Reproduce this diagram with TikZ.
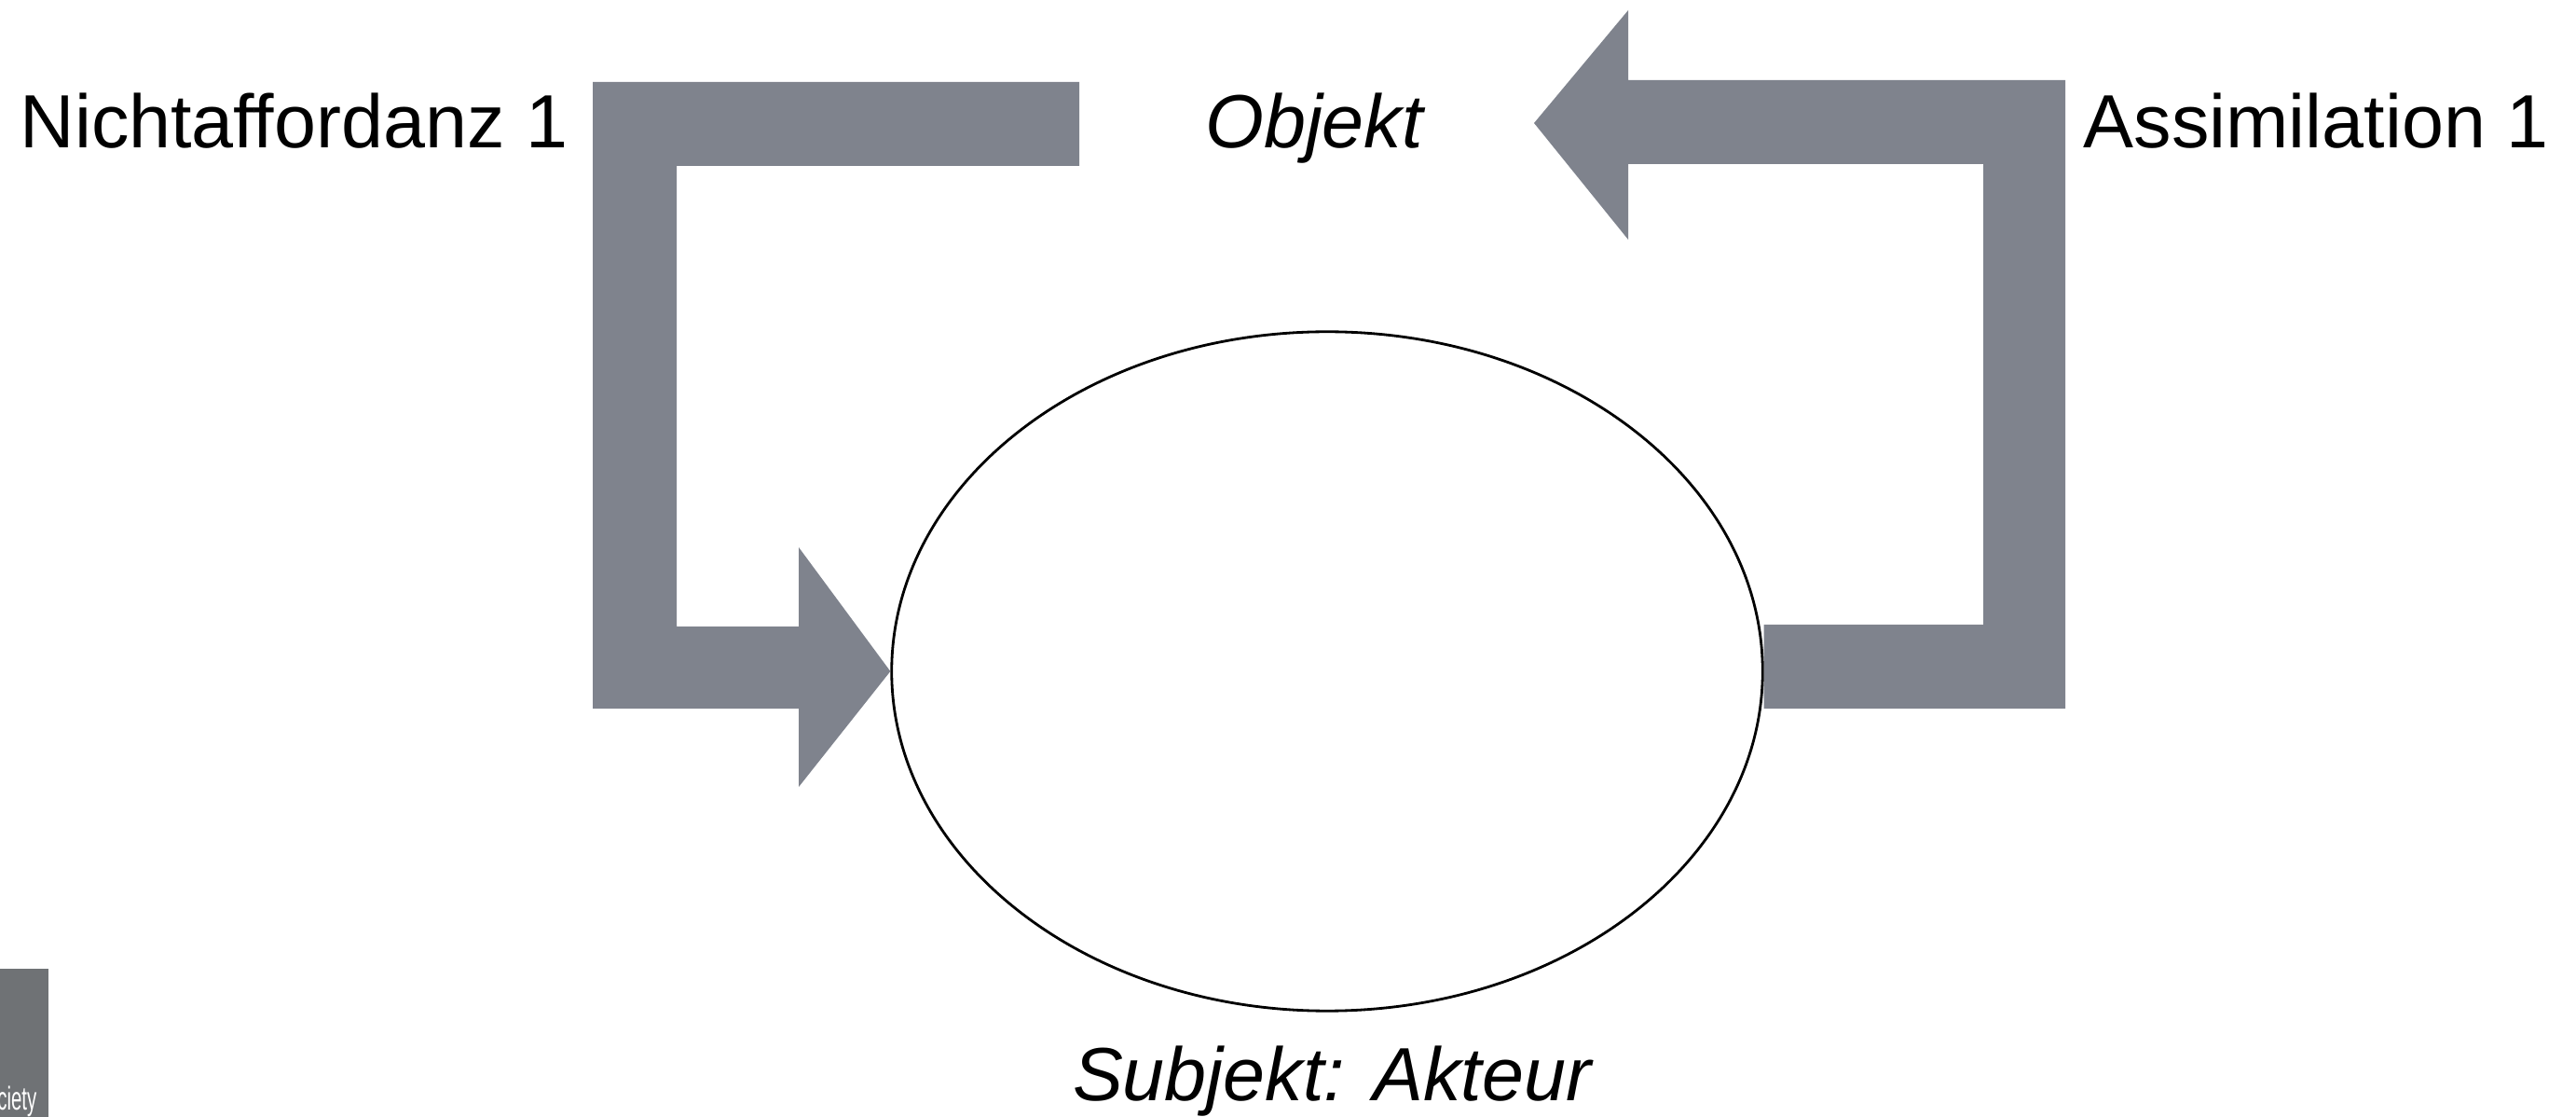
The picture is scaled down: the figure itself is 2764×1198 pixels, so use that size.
\documentclass[tikz,border=0pt]{standalone}
\usepackage{fontspec}
\setmainfont{Liberation Sans}
\usetikzlibrary{shapes.geometric,backgrounds}
\definecolor{arrowgray}{RGB}{127,131,141}
\definecolor{boxgray}{RGB}{111,114,117}
\begin{document}
\begin{tikzpicture}[x=0.01cm,y=-0.01cm,
  blockarrow/.style={fill=arrowgray,draw=none},
  lbl/.style={font=\fontsize{23}{27}\selectfont,inner sep=0pt},
  ital/.style={font=\fontsize{23}{27}\selectfont\itshape,inner sep=0pt}]
\useasboundingbox (0,0) rectangle (2764,1198);
% subject ellipse
\node[ellipse, draw, line width=0.8pt, minimum width=9.34cm, minimum height=7.28cm, inner sep=0pt] (subj) at (1424,720) {};
\coordinate (objtip) at (1646,132);
% block arrows behind the ellipse
\begin{scope}[on background layer]
\fill[blockarrow] (636,88) -- (1158,88) -- (1158,178) -- (726,178) -- (726,672) -- (857,672) -- (857,587) -- (subj.west) -- (857,844) -- (857,760) -- (636,760) -- cycle;
\fill[blockarrow] (subj.east |- 0,670) -- (2128,670) -- (2128,176) -- (1747,176) -- (1747,257) -- (objtip) -- (1747,11) -- (1747,86) -- (2216,86) -- (2216,760) -- (subj.east |- 0,760) -- cycle;
\end{scope}
% labels
\node[lbl, anchor=base west] (naff) at (21,159) {Nichtaffordanz 1};
\node[ital, anchor=base] (obj) at (1410,159) {Objekt};
\node[lbl, anchor=base west] (assim) at (2235,159) {Assimilation 1};
\node[ital, anchor=base] (subjlbl) at (1429,1180) {Subjekt: Akteur};
% corner box
\fill[boxgray] (0,1039) rectangle (52,1198);
\begin{scope}
\clip (0,1039) rectangle (52,1198);
\node[text=white, font=\fontsize{10}{12}\selectfont, anchor=base east, inner sep=0pt] (soc) at (40,1190) {\scalebox{0.58}[1]{ciety}};
\end{scope}
\end{tikzpicture}
\end{document}
